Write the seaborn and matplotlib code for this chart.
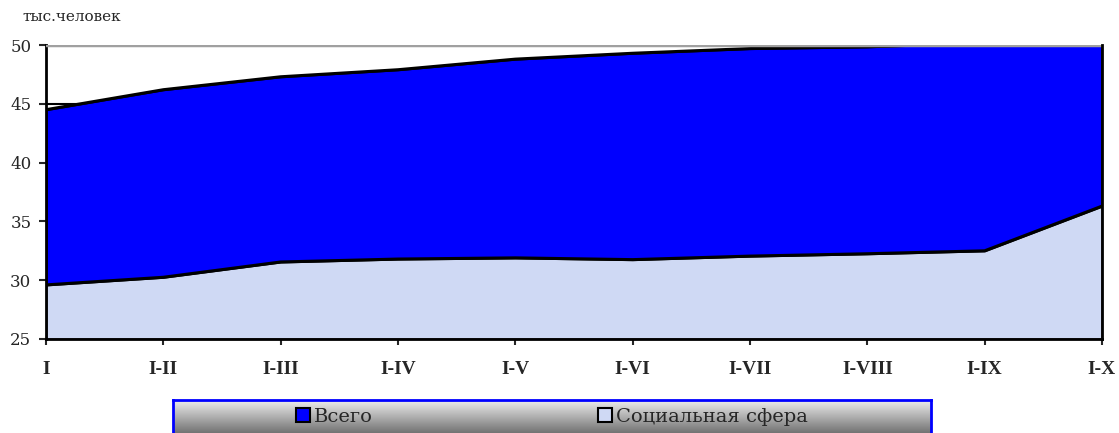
import numpy as np
import pandas as pd
import matplotlib
matplotlib.use('Agg')
import matplotlib.pyplot as plt
import seaborn as sns

# данные (тыс. человек)
periods = ['I', 'I-II', 'I-III', 'I-IV', 'I-V', 'I-VI', 'I-VII', 'I-VIII', 'I-IX', 'I-X']
total = [44.5, 46.2, 47.3, 47.9, 48.8, 49.3, 49.7, 49.85, 50.2, 50.2]
social = [29.6, 30.25, 31.55, 31.8, 31.9, 31.75, 32.05, 32.25, 32.5, 36.3]
yticks = [25, 30, 35, 40, 45, 50]

df = pd.DataFrame({'period': periods, 'Всего': total, 'Социальная сфера': social})

sns.set_style('white')
plt.rcParams['font.family'] = ['DejaVu Serif']

fig = plt.figure(figsize=(11.19, 4.33), dpi=100)
ax = fig.add_axes([0.0411, 0.2171, 0.9437, 0.6789])

# gridline at 45 etc. sit behind the areas
for y in yticks[1:-1]:
    ax.axhline(y, color='black', lw=1.5, zorder=0)

x = np.arange(len(periods))
ax.fill_between(x, 25, df['Всего'], color='#0000ff', label='Всего', zorder=1,
                edgecolor='black', linewidth=0)
ax.fill_between(x, 25, df['Социальная сфера'], color='#cfd9f4', label='Социальная сфера',
                zorder=2, edgecolor='black', linewidth=0)
sns.lineplot(x=x, y=df['Всего'].values, ax=ax, color='black', lw=2.2, zorder=3, legend=False)
sns.lineplot(x=x, y=df['Социальная сфера'].values, ax=ax, color='black', lw=2.2, zorder=3,
             legend=False)
ax.axhline(50, color='#a0a0a0', lw=2.5, zorder=4)
if ax.get_legend() is not None:
    ax.get_legend().remove()

ax.set_xlim(0, len(periods) - 1)
ax.set_ylim(25, 50)
ax.set_xticks(x)
ax.set_xticklabels(periods, fontfamily='Liberation Serif', fontweight='bold', fontsize=14)
ax.set_yticks(yticks)
ax.set_yticklabels([str(v) for v in yticks], fontsize=12)
ax.tick_params(axis='y', direction='out', length=5, width=1.5, pad=5.5, left=True)
ax.tick_params(axis='x', direction='out', length=4.5, width=1.5, pad=11, bottom=True)
ax.set_xlabel('')
ax.set_ylabel('')
for side in ['left', 'bottom', 'right']:
    ax.spines[side].set_color('black')
    ax.spines[side].set_linewidth(2)
ax.spines['top'].set_visible(False)
ax.spines['right'].set_zorder(5)

fig.text(22 / 1119, 1 - 17 / 433, 'тыс.человек', fontsize=11, va='center', ha='left')

# legend box with grey gradient and blue border
lax = fig.add_axes([173 / 1119, 0, (931 - 173) / 1119, (433 - 400) / 433])
grad = np.linspace(0.93, 0.45, 100).reshape(-1, 1)
lax.imshow(grad, aspect='auto', cmap='gray', vmin=0, vmax=1, extent=[0, 1, 0, 1])
lax.set_xticks([])
lax.set_yticks([])
for s in lax.spines.values():
    s.set_color('#0000ff')
    s.set_linewidth(2)
lax.spines['bottom'].set_visible(False)

handles, labels = ax.get_legend_handles_labels()
handles = [h for h, l in zip(handles, labels) if l in ('Всего', 'Социальная сфера')]
for h in handles:
    h.set_edgecolor('black')
    h.set_linewidth(1.5)
leg = lax.legend(handles, ['Всего', 'Социальная сфера'], ncol=2, frameon=False,
                 loc='center', bbox_to_anchor=(0.5, 0.5), fontsize=14,
                 handlelength=0.7, handleheight=0.7, handletextpad=0.2,
                 columnspacing=11.6)

fig.savefig('out.png', dpi=100)
